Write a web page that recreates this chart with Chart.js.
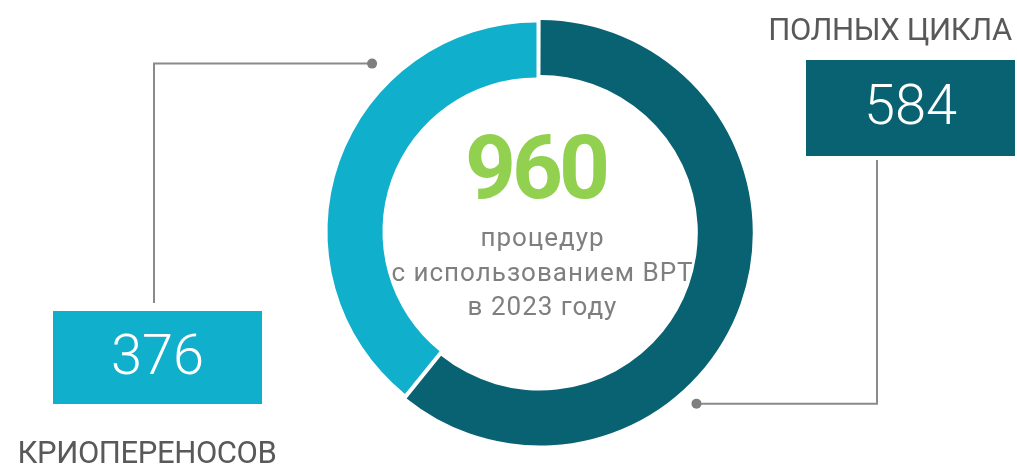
<!DOCTYPE html>
<html>
<head>
<meta charset="utf-8">
<script src="https://cdn.jsdelivr.net/npm/chart.js@4"></script>
<style>
  html, body { margin: 0; padding: 0; background: #fff; }
  #wrap { width: 1017px; height: 465px; }
</style>
</head>
<body>
<div id="wrap"><canvas id="ivfChart" width="1017" height="465"></canvas></div>
<script>
// data
const categories = ['ПОЛНЫХ ЦИКЛА', 'КРИОПЕРЕНОСОВ'];
const values = [584, 376];
const colors = ['#096272', '#10afcc'];
const centerLines = ['процедур', 'с использованием ВРТ', 'в 2023 году'];

const total = values.reduce((a, b) => a + b, 0);

// callouts: value box, title position, anchor angle on the ring, leader line x / end y
const callouts = [
    { box: [806, 60, 209, 96], title: [890, 40], angle: 137.1, lineX: 877, lineEnd: 160 },
    { box: [53, 311, 209, 93], title: [147, 463], angle: 315.6, lineX: 154, lineEnd: 303 }
];

const calloutPlugin = {
    id: 'callouts',
    afterDraw(chart) {
        const ctx = chart.ctx;
        const meta = chart.getDatasetMeta(0);
        const cx = meta.data[0].x;
        const cy = meta.data[0].y;
        ctx.save();
        meta.data.forEach((arc, i) => {
            const c = callouts[i];
            // anchor dot just outside the ring
            const a = (c.angle - 90) * Math.PI / 180;
            const r = arc.outerRadius + 26;
            const ax = cx + Math.cos(a) * r;
            const ay = cy + Math.sin(a) * r;
            ctx.strokeStyle = '#8a8a8a';
            ctx.lineWidth = 2;
            ctx.beginPath();
            ctx.moveTo(c.lineX, c.lineEnd);
            ctx.lineTo(c.lineX, ay);
            ctx.lineTo(ax, ay);
            ctx.stroke();
            ctx.fillStyle = '#7f7f7f';
            ctx.beginPath();
            ctx.arc(ax, ay, 5, 0, Math.PI * 2);
            ctx.fill();

            // value box
            const [bx, by, bw, bh] = c.box;
            ctx.fillStyle = colors[i];
            ctx.fillRect(bx, by, bw, bh);
            ctx.fillStyle = '#ffffff';
            ctx.font = '300 56px Roboto';
            ctx.textAlign = 'center';
            ctx.textBaseline = 'middle';
            ctx.fillText(String(values[i]), bx + bw / 2, by + bh / 2 + 2);

            // category title
            ctx.fillStyle = '#595959';
            ctx.font = '400 31px Roboto';
            ctx.textBaseline = 'alphabetic';
            ctx.letterSpacing = '-0.4px';
            ctx.fillText(categories[i], c.title[0], c.title[1]);
            ctx.letterSpacing = '0px';
        });

        // center text
        ctx.textAlign = 'center';
        ctx.textBaseline = 'alphabetic';
        ctx.fillStyle = '#92d050';
        ctx.font = '700 89px Roboto';
        ctx.letterSpacing = '-4px';
        ctx.fillText(String(total), cx - 1, cy - 34);
        ctx.fillStyle = '#7f7f7f';
        ctx.font = '400 26px Roboto';
        ctx.letterSpacing = '1px';
        centerLines.forEach((t, k) => {
            ctx.fillText(t, cx + 6, cy + 14.5 + k * 34.5);
        });
        ctx.letterSpacing = '0px';
        ctx.restore();
    }
};

document.addEventListener('DOMContentLoaded', function () {
    const ctx = document.getElementById('ivfChart').getContext('2d');
    new Chart(ctx, {
        type: 'doughnut',
        data: {
            labels: categories,
            datasets: [{
                data: values,
                backgroundColor: colors,
                borderWidth: 0,
                offset: [15, 0],
                hoverOffset: 0
            }]
        },
        options: {
            responsive: false,
            animation: false,
            radius: 209,
            cutout: '73.7%',
            rotation: 0,
            layout: { padding: { left: 56, bottom: 2 } },
            plugins: {
                legend: { display: false },
                tooltip: { enabled: false }
            }
        },
        plugins: [calloutPlugin]
    });
});
</script>
</body>
</html>
